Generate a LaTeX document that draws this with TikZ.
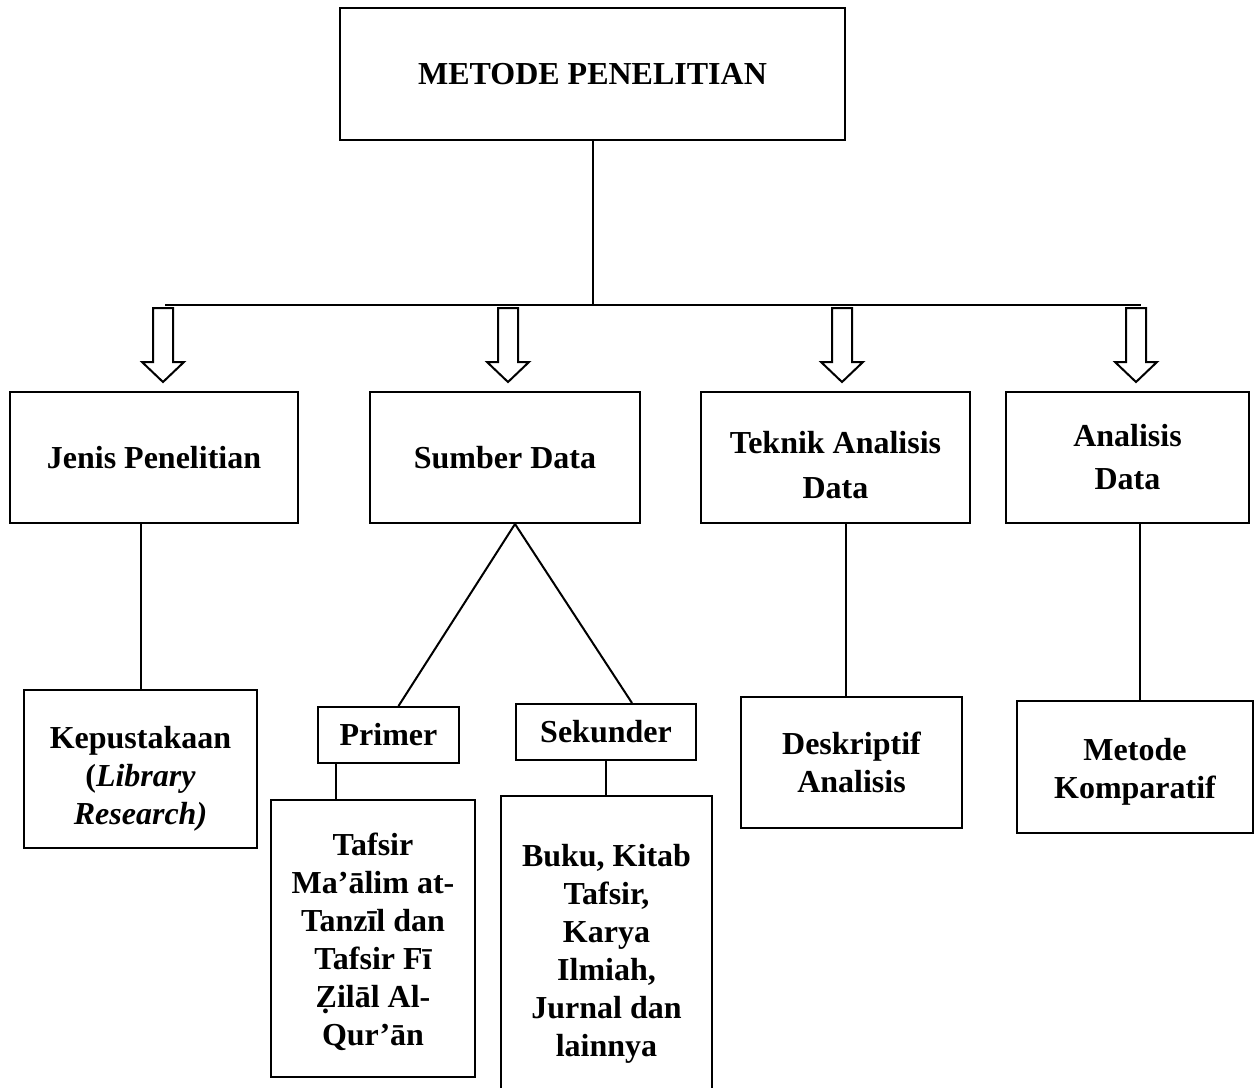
\documentclass[tikz,border=0pt]{standalone}
\usepackage{fontspec}
\setmainfont{Liberation Serif}

\begin{document}
\begin{tikzpicture}[x=0.5pt, y=-0.5pt, line width=1pt,
  box/.style={draw, align=center, inner sep=2pt, font=\fontsize{16}{19}\selectfont\bfseries},
  blockarrow/.style={draw, fill=white, line join=miter}]
  \useasboundingbox (0,0) rectangle (1258,1087);

  % Top box
  \node[box, minimum width=252.5pt, minimum height=66pt] (metode) at (592.5,74) {METODE PENELITIAN};

  % Second row
  \node[box, minimum width=144pt, minimum height=65.5pt] (jenis) at (154,457.5) {Jenis Penelitian};
  \node[box, minimum width=135pt, minimum height=65.5pt] (sumber) at (505,457.5) {Sumber Data};
  \node[box, minimum width=134.5pt, minimum height=65.5pt] (teknik) at (835.5,457.5) {\rule{0pt}{19pt}Teknik Analisis\\[3.5pt] Data};
  \node[box, minimum width=121.5pt, minimum height=65.5pt] (analisis) at (1127.5,457.5) {Analisis\\[2.5pt] Data};

  % Third row
  \node[box, minimum width=116.5pt, minimum height=79pt] (kepustakaan) at (140.5,769) {\rule{0pt}{21pt}Kepustakaan\\(\textit{Library}\\\textit{Research)}};
  \node[box, minimum width=70.5pt, minimum height=28pt] (primer) at (388.5,735) {Primer};
  \node[box, minimum width=90pt, minimum height=28pt] (sekunder) at (606,732) {Sekunder};
  \node[box, minimum width=110.5pt, minimum height=65.5pt] (deskriptif) at (851.5,762.5) {Deskriptif\\Analisis};
  \node[box, minimum width=118pt, minimum height=66pt] (komparatif) at (1135,767) {\rule{0pt}{16pt}Metode\\Komparatif};

  % Sources
  \node[box, minimum width=102pt, minimum height=138.5pt] (tafsir) at (373,938.5) {\rule{0pt}{15pt}Tafsir\\Ma’ālim at-\\Tanzīl dan\\Tafsir Fī\\Ẓilāl Al-\\Qur’ān};
  \node[box, minimum width=105.5pt, minimum height=157.5pt] (buku) at (606.5,953.5) {Buku, Kitab\\Tafsir,\\Karya\\Ilmiah,\\Jurnal dan\\lainnya};

  % Bus
  \coordinate (busL) at (165,305);
  \coordinate (busR) at (1141,305);
  \draw (metode.south) -- (metode.south |- busL);
  \draw (busL) -- (busR);

  % Block arrows
  \foreach \x in {163,508,842,1136}
    \draw[blockarrow] (\x-10,308) -- (\x+10,308) -- (\x+10,362) -- (\x+21,362)
      -- (\x,382) -- (\x-21,362) -- (\x-10,362) -- cycle;

  % Links
  \draw (kepustakaan.north) -- (kepustakaan.north |- jenis.south);
  \draw ([xshift=5pt]sumber.south) -- ([xshift=5pt]primer.north);
  \draw ([xshift=5pt]sumber.south) -- ([xshift=13pt]sekunder.north);
  \draw ([xshift=-18.5pt]tafsir.north) -- ([xshift=-18.5pt]tafsir.north |- primer.south);
  \draw (sekunder.south) -- (sekunder.south |- buku.north);
  \draw ([xshift=5pt]teknik.south) -- ([xshift=5pt]teknik.south |- deskriptif.north);
  \draw ([xshift=2.5pt]komparatif.north) -- ([xshift=2.5pt]komparatif.north |- analisis.south);
\end{tikzpicture}
\end{document}
